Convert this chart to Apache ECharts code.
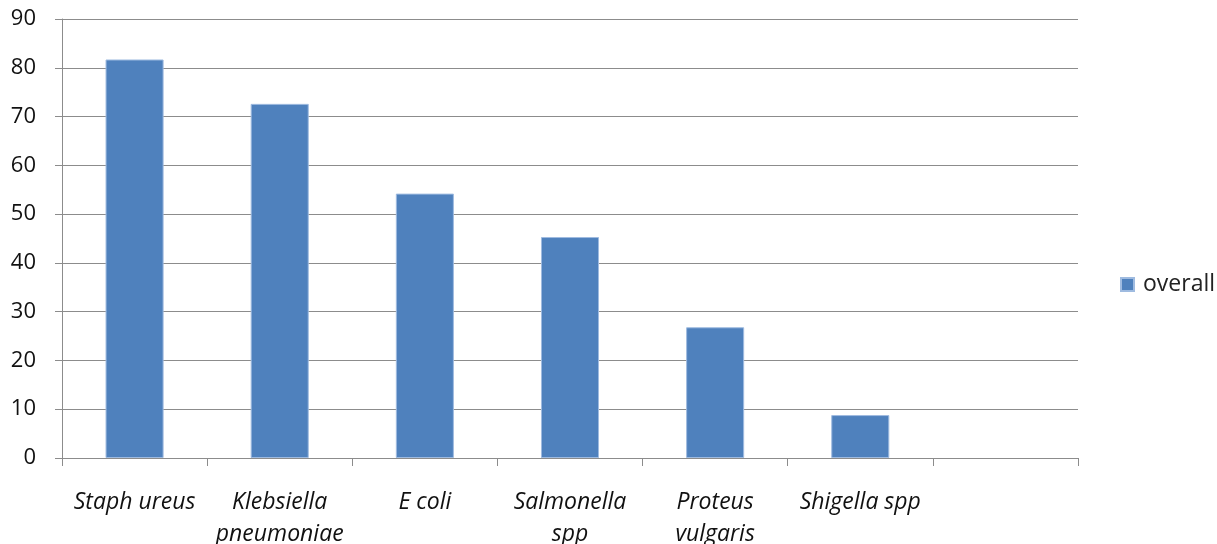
<!DOCTYPE html>
<html>
<head>
<meta charset="utf-8">
<script src="https://cdn.jsdelivr.net/npm/echarts@6/dist/echarts.min.js"></script>
<style>
  html, body { margin: 0; padding: 0; background: #fff; }
  #chart { width: 1217px; height: 544px; }
</style>
</head>
<body>
<div id="chart"></div>
<script>
// Organisms along the bottom axis (last slot left empty)
const categories = ['Staph ureus', 'Klebsiella\npneumoniae', 'E coli', 'Salmonella\nspp', 'Proteus\nvulgaris', 'Shigella spp', ''];
// Overall percentage per organism
const overall = [81.7, 72.6, 54.2, 45.3, 26.8, 8.8, null];
const seriesName = 'overall';
const yMin = 0, yMax = 90, yStep = 10;

const FONT = '"Open Sans", "Noto Sans", sans-serif';
const LINE = '#8c8c8c';

const chart = echarts.init(document.getElementById('chart'), null, { renderer: 'canvas' });
chart.setOption({
  animation: false,
  backgroundColor: '#ffffff',
  grid: {
    left: 62, right: 139, top: 19, bottom: 86,
    containLabel: false,
    outerBoundsMode: 'none'
  },
  legend: {
    data: [seriesName],
    orient: 'vertical',
    left: 1115,
    top: 268,
    itemWidth: 13,
    itemHeight: 13,
    itemGap: 10,
    icon: 'rect',
    textStyle: { fontFamily: FONT, fontSize: 23, color: '#222', padding: [0, 0, 0, 4] }
  },
  xAxis: {
    type: 'category',
    data: categories,
    boundaryGap: true,
    axisLine: { lineStyle: { color: LINE, width: 1 } },
    axisTick: { show: true, length: 8, lineStyle: { color: LINE } },
    axisLabel: {
      interval: 0,
      margin: 28,
      fontFamily: FONT,
      fontStyle: 'italic',
      fontSize: 23,
      lineHeight: 32,
      color: '#111'
    }
  },
  yAxis: {
    type: 'value',
    min: yMin,
    max: yMax,
    interval: yStep,
    axisLine: { show: true, lineStyle: { color: LINE, width: 1 } },
    axisTick: { show: true, length: 7, lineStyle: { color: LINE } },
    splitLine: { show: true, lineStyle: { color: LINE, width: 1 } },
    axisLabel: {
      margin: 26,
      fontFamily: FONT,
      fontSize: 22,
      color: '#111'
    }
  },
  series: [{
    name: seriesName,
    type: 'bar',
    data: overall,
    barWidth: '40%',
    itemStyle: { color: '#4f81bd', borderColor: '#9fbbe0', borderWidth: 1 }
  }]
});
</script>
</body>
</html>
